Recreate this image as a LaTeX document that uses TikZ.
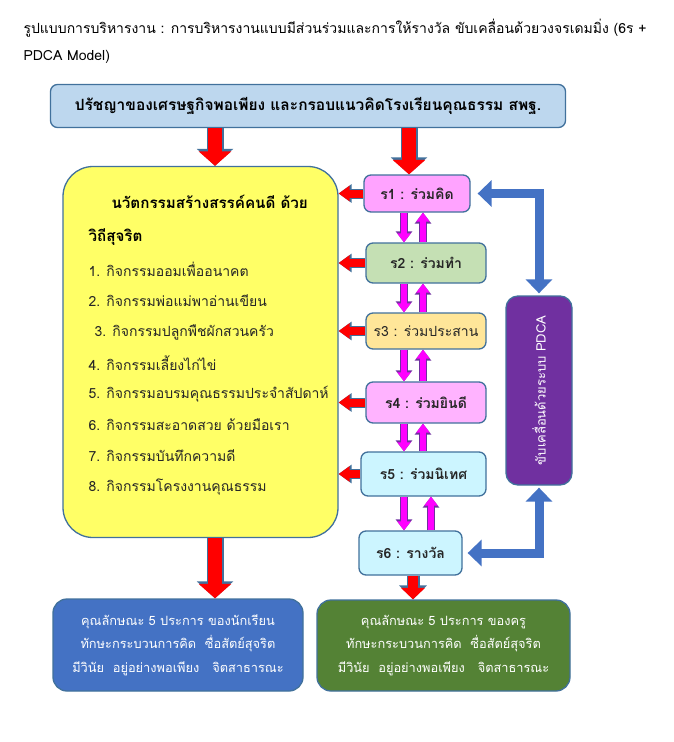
\documentclass[tikz,border=0pt]{standalone}
\usepackage{fontspec}
\setmainfont[Script=Thai]{Loma}
\usetikzlibrary{arrows.meta}

\definecolor{boxline}{HTML}{41719C}
\definecolor{topblue}{HTML}{BDD7EE}
\definecolor{ideayellow}{HTML}{FFFF66}
\definecolor{stepone}{HTML}{FFA3FF}
\definecolor{steptwo}{HTML}{C5E0B4}
\definecolor{stepthree}{HTML}{FFE699}
\definecolor{stepfour}{HTML}{FFB3FF}
\definecolor{stepfive}{HTML}{CCF5FF}
\definecolor{pdcapurple}{HTML}{7030A0}
\definecolor{pupilblue}{HTML}{4472C4}
\definecolor{teachgreen}{HTML}{548235}
\definecolor{arrowred}{HTML}{FF0000}
\definecolor{arrowpink}{HTML}{FF00FF}

\tikzset{
    box/.style={draw=boxline, line width=1.3pt, rounded corners=7pt, align=center, inner sep=2pt},
    stepbox/.style={box, font=\bfseries\fontsize{14}{16}\selectfont, text=black!85},
    outbox/.style={box, text=white, rounded corners=14pt, font=\fontsize{12.8}{23.5}\selectfont},
    redarrow/.style={preaction={draw=boxline, line width=17pt, -{Triangle[width=35.5pt,length=17pt]}},
        draw=arrowred, line width=14.5pt, -{Triangle[width=32pt,length=14.5pt]}},
    redmid/.style={preaction={draw=boxline, line width=13pt, -{Triangle[width=27pt,length=14pt]}},
        draw=arrowred, line width=10.5pt, -{Triangle[width=23.5pt,length=11.5pt]}},
    redsmall/.style={preaction={draw=boxline, line width=10pt, -{Triangle[width=18pt,length=13pt]}},
        draw=arrowred, line width=8pt, -{Triangle[width=15pt,length=11pt]}},
    pinkarrow/.style={preaction={draw=pdcapurple, line width=7.5pt, -{Triangle[width=16pt,length=11pt]}},
        draw=arrowpink, line width=5.5pt, -{Triangle[width=13pt,length=9pt]}},
    bluearrow/.style={draw=pupilblue, line width=9pt, rounded corners=0pt,
        {Triangle[width=26pt,length=14pt]}-{Triangle[width=26pt,length=14pt]}},
    item/.style={anchor=west, font=\fontsize{14}{16}\selectfont, text=black!85}
}

\begin{document}
\begin{tikzpicture}[x=1pt,y=-1pt]
    \useasboundingbox[fill=white] (0,0) rectangle (673,742);

    \node[anchor=west, font=\fontsize{14}{16}\selectfont] (title1) at (20,28)
        {รูปแบบการบริหารงาน : การบริหารงานแบบมีส่วนร่วมและการให้รางวัล ขับเคลื่อนด้วยวงจรเดมมิ่ง (6ร +};
    \node[anchor=west, font=\fontsize{14}{16}\selectfont] (title2) at (20,57) {PDCA Model)};

    \node[box, fill=topblue, minimum width=515pt, minimum height=43pt,
        font=\bfseries\fontsize{15.5}{18}\selectfont] (base) at (308,106)
        {ปรัชญาของเศรษฐกิจพอเพียง และกรอบแนวคิดโรงเรียนคุณธรรม สพฐ.};

    \node[box, fill=ideayellow, rounded corners=30pt, minimum width=275pt,
        minimum height=371pt] (idea) at (200.5,352) {};
    \node[anchor=west, font=\bfseries\fontsize{15.2}{18}\selectfont] (head1) at (108,202)
        {นวัตกรรมสร้างสรรค์คนดี ด้วย};
    \node[anchor=west, font=\bfseries\fontsize{15.2}{18}\selectfont] (head2) at (85,237)
        {วิถีสุจริต};
    \foreach \x/\y/\t in {85/269/1. กิจกรรมออมเพื่ออนาคต,
                          85/301/2. กิจกรรมพ่อแม่พาอ่านเขียน,
                          91/332/3. กิจกรรมปลูกพืชผักสวนครัว,
                          85/363/4. กิจกรรมเลี้ยงไก่ไข่,
                          85/394/5. กิจกรรมอบรมคุณธรรมประจำสัปดาห์,
                          85/425/6. กิจกรรมสะอาดสวย ด้วยมือเรา,
                          85/456/7. กิจกรรมบันทึกความดี,
                          85/487/8. กิจกรรมโครงงานคุณธรรม}
        \node[item] at (\x,\y) {\t};

    \node[stepbox, fill=stepone, minimum width=106pt, minimum height=37pt] (s1) at (417,193.5) {ร1 : ร่วมคิด};
    \node[stepbox, fill=steptwo, minimum width=120pt, minimum height=40pt] (s2) at (426,263) {ร2 : ร่วมทำ};
    \node[stepbox, fill=stepthree, minimum width=120pt, minimum height=36pt, font=\fontsize{14}{16}\selectfont] (s3) at (426,331) {ร3 : ร่วมประสาน};
    \node[stepbox, fill=stepfour, minimum width=120pt, minimum height=41pt] (s4) at (426,402.5) {ร4 : ร่วมยินดี};
    \node[stepbox, fill=stepfive, minimum width=125pt, minimum height=44pt] (s5) at (423.5,474) {ร5 : ร่วมนิเทศ};
    \node[stepbox, fill=stepfive, minimum width=103pt, minimum height=44pt] (s6) at (410.5,553) {ร6 : รางวัล};

    \node[box, fill=pdcapurple, rounded corners=12pt, minimum width=66pt, minimum height=189pt] (pdca) at (539,390.5) {};
    \node[rotate=90, text=white, font=\fontsize{13}{15}\selectfont] (pdcatext) at (pdca.center) {ขับเคลื่อนด้วยระบบ PDCA};

    \node[outbox, fill=pupilblue, minimum width=250pt, minimum height=92pt] (pupil) at (178,645)
        {คุณลักษณะ 5 ประการ ของนักเรียน\\ ทักษะกระบวนการคิด\ \ ซื่อสัตย์สุจริต\\มีวินัย\ \ อยู่อย่างพอเพียง\ \ \ จิตสาธารณะ};
    \node[outbox, fill=teachgreen, minimum width=253pt, minimum height=91pt] (teacher) at (443.5,645.5)
        {คุณลักษณะ 5 ประการ ของครู\\ ทักษะกระบวนการคิด\ \ ซื่อสัตย์สุจริต\\มีวินัย\ \ อยู่อย่างพอเพียง\ \ \ จิตสาธารณะ};

    \coordinate (lx) at (215,0);
    \coordinate (rx) at (409,0);
    \coordinate (gx) at (413,0);
    \coordinate (dn) at (404,0);
    \coordinate (up1) at (423,0);
    \coordinate (up2) at (431,0);

    \draw[redarrow] (base.south -| lx) -- (idea.north -| lx);
    \draw[redarrow] (base.south -| rx) -- (s1.north -| rx);
    \draw[redarrow] (idea.south -| lx) -- (pupil.north -| lx);
    \draw[redmid] (s6.south -| gx) -- (teacher.north -| gx);

    \foreach \s in {s1,s2,s3,s4,s5}
        \draw[redsmall] (\s.west) -- (\s.west -| idea.east);

    \foreach \a/\b/\u in {s1/s2/up1, s2/s3/up1, s3/s4/up1, s4/s5/up1, s5/s6/up2} {
        \draw[pinkarrow] (\a.south -| dn) -- (\b.north -| dn);
        \draw[pinkarrow] (\b.north -| \u) -- (\a.south -| \u);
    }

    \draw[bluearrow, shorten <=7pt, shorten >=2pt] (s1.east) -| (pdca.north);
    \draw[bluearrow, shorten <=5pt, shorten >=2pt] (s6.east) -| (pdca.south);
\end{tikzpicture}
\end{document}
